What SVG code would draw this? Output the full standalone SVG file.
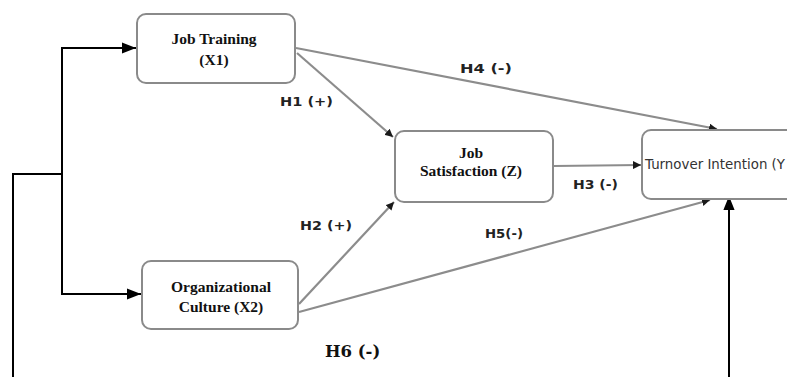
<svg xmlns="http://www.w3.org/2000/svg" width="787" height="377" viewBox="0 0 787 377">
<style>
.box{fill:#fff;stroke:#8a8a8a;stroke-width:2}
.nt{font-family:"Liberation Serif","Times New Roman",serif;font-weight:bold;font-size:15.5px;fill:#111;text-anchor:middle}
.gl{stroke:#8c8c8c;stroke-width:2.2;fill:none}
.bl{stroke:#000;stroke-width:2;fill:none}
.hl{font-family:"DejaVu Sans",Verdana,sans-serif;font-weight:bold;font-size:13px;fill:#222}
</style>
<defs>
<marker id="ga" viewBox="0 0 10 10" refX="10" refY="5" markerWidth="8" markerHeight="8" markerUnits="userSpaceOnUse" orient="auto"><path d="M0,0L10,5L0,10z" fill="#1a1a1a"/></marker>
<marker id="ba" viewBox="0 0 10 10" refX="10" refY="5" markerWidth="14" markerHeight="14" markerUnits="userSpaceOnUse" orient="auto"><path d="M0,1L10,5L0,9z" fill="#000"/></marker>
</defs>
<rect width="787" height="377" fill="#fff"/>
<g id="connectors">
<polyline class="bl" points="13,377 13,174 62,174"/>
<polyline class="bl" points="62,293 62,48 136,48" marker-end="url(#ba)"/>
<polyline class="bl" points="62,174 62,294 141,294" marker-end="url(#ba)"/>
<line class="bl" x1="729" y1="377" x2="729" y2="196" marker-end="url(#ba)"/>
<line class="gl" x1="296" y1="48" x2="717" y2="129" marker-end="url(#ga)"/>
<line class="gl" x1="297" y1="53" x2="393" y2="137" marker-end="url(#ga)"/>
<line class="gl" x1="554" y1="166" x2="641" y2="165" marker-end="url(#ga)"/>
<line class="gl" x1="299" y1="304" x2="394" y2="202" marker-end="url(#ga)"/>
<line class="gl" x1="299" y1="312" x2="710" y2="200" marker-end="url(#ga)"/>
<text class="hl" x="280" y="106" textLength="53" lengthAdjust="spacingAndGlyphs">H1 (+)</text>
<text class="hl" x="460" y="73" textLength="52" lengthAdjust="spacingAndGlyphs">H4 (-)</text>
<text class="hl" x="573" y="189" textLength="45" lengthAdjust="spacingAndGlyphs">H3 (-)</text>
<text class="hl" x="300" y="230" textLength="52" lengthAdjust="spacingAndGlyphs">H2 (+)</text>
<text class="hl" x="485" y="238" textLength="38" lengthAdjust="spacingAndGlyphs">H5(-)</text>
<text x="325" y="357" font-family="'DejaVu Serif',Cambria,serif" font-weight="bold" font-size="16.5px" fill="#111">H6 (-)</text>
</g>
<g id="job-training">
<rect class="box" x="137" y="14" width="158" height="69" rx="9"/>
<text class="nt" x="214" y="44">Job Training</text>
<text class="nt" x="214" y="65">(X1)</text>
</g>
<g id="org-culture">
<rect class="box" x="142" y="261" width="156" height="68" rx="9"/>
<text class="nt" x="221" y="292">Organizational</text>
<text class="nt" x="221" y="312">Culture (X2)</text>
</g>
<g id="job-satisfaction">
<rect class="box" x="395" y="131" width="158" height="71" rx="9"/>
<text class="nt" x="471" y="158">Job</text>
<text class="nt" x="471" y="176">Satisfaction (Z)</text>
</g>
<g id="turnover-intention">
<rect class="box" x="642" y="130" width="170" height="69" rx="9"/>
<text x="645" y="169" font-family="'DejaVu Sans',Verdana,sans-serif" font-size="13.5px" fill="#333" textLength="140" lengthAdjust="spacingAndGlyphs">Turnover Intention (Y</text>
</g>
</svg>
